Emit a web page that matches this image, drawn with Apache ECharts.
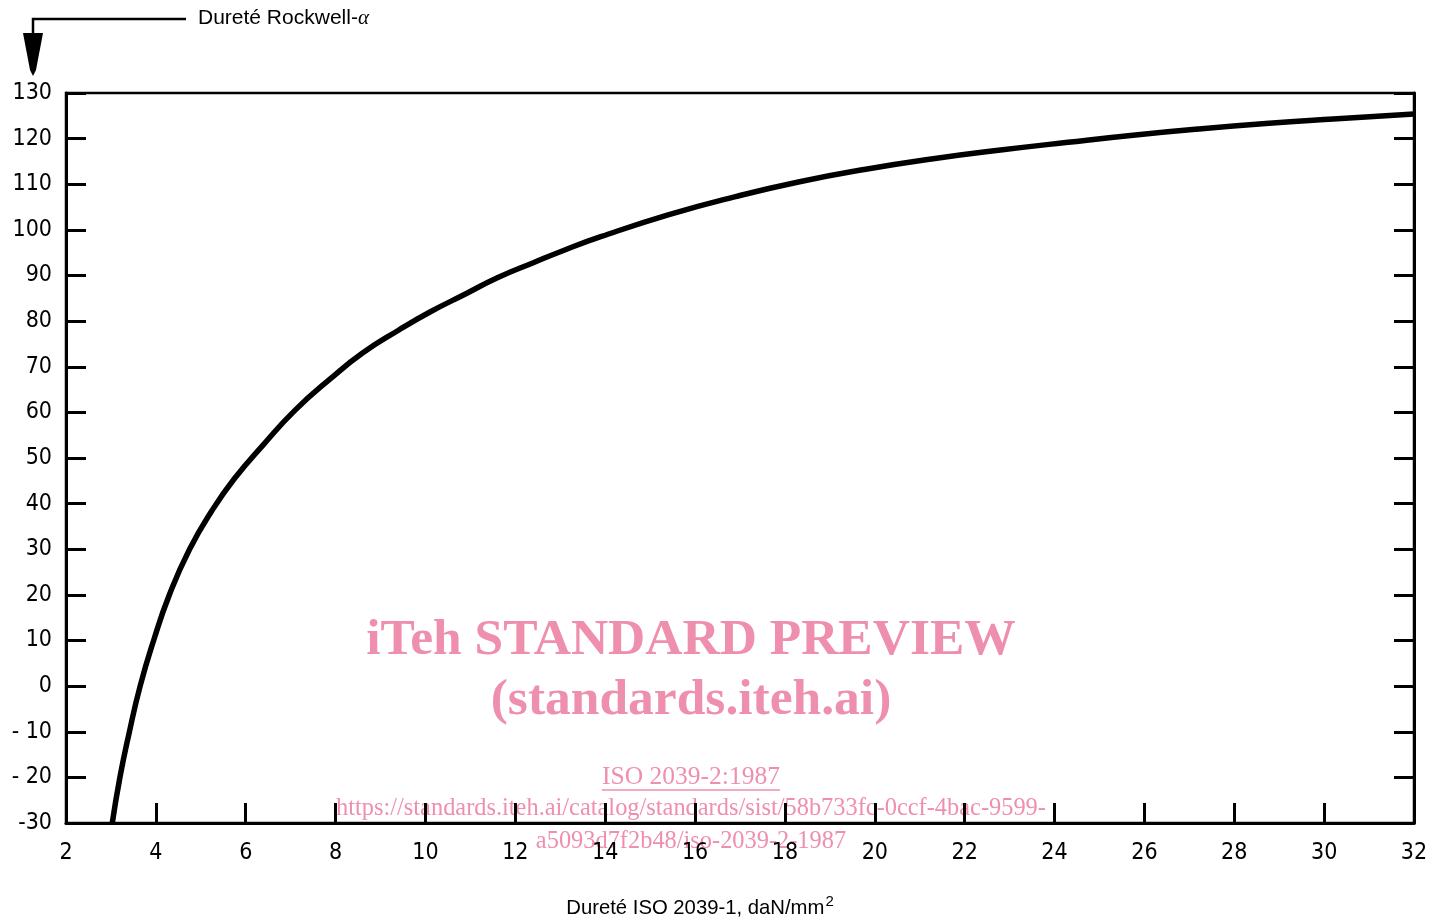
<!DOCTYPE html>
<html>
<head>
<meta charset="utf-8">
<title>Dureté Rockwell-α / Dureté ISO 2039-1</title>
<script src="https://cdn.jsdelivr.net/npm/echarts@6/dist/echarts.min.js"></script>
<style>
  html, body { margin: 0; padding: 0; background: #fff; }
  #chart { width: 1445px; height: 920px; }
</style>
</head>
<body>
<div id="chart"></div>
<script>
// valeurs
const isoHardness = [3.03, 3.2, 3.4, 3.65, 3.95, 4.3, 4.75, 5.25, 5.75, 6.4, 7.1, 7.9, 8.6, 9.4, 10.1, 10.9, 11.6, 12.4, 13.1, 13.9, 15.4, 16.9, 18.3, 19.8, 21.3, 22.8, 24.3, 25.8, 27.2, 28.7, 30.2, 32];
const rockwellAlpha = [-30, -20, -10.5, 0, 10, 20, 30, 38.5, 45.5, 53, 60.5, 67.5, 73, 78, 82, 86, 89.5, 92.8, 95.6, 98.5, 103.3, 107.3, 110.5, 113.3, 115.6, 117.5, 119.2, 120.8, 122.1, 123.3, 124.3, 125.4];

// graduations
const yTicks = [-30, -20, -10, 0, 10, 20, 30, 40, 50, 60, 70, 80, 90, 100, 110, 120, 130];
const yTickLabels = ['-30', '- 20', '- 10', '0', '10', '20', '30', '40', '50', '60', '70', '80', '90', '100', '110', '120', '130'];

const pink = '#ef8fae';
const axisFont = '"Liberation Sans Narrow", "DejaVu Sans Condensed", "Roboto", sans-serif';
const sansFont = '"Liberation Sans", Arial, sans-serif';
const serifFont = '"Liberation Serif", "Times New Roman", serif';

let myChart = echarts.init(document.getElementById('chart'));

let option = {
    backgroundColor: '#fff',
    animation: false,
    grid: {
        left: 66, right: 31, top: 93, bottom: 97,
        show: true, borderColor: '#000', borderWidth: 2.5
    },
    xAxis: {
        type: 'value', min: 2, max: 32, interval: 2,
        axisLine: { onZero: false, lineStyle: { color: '#000', width: 3 } },
        axisTick: { inside: true, length: 20, lineStyle: { color: '#000', width: 3 } },
        axisLabel: { margin: 19, color: '#000', fontSize: 23, fontFamily: axisFont },
        splitLine: { show: false }
    },
    yAxis: [{
        type: 'value', min: -30, max: 130, interval: 10, position: 'left',
        axisLine: { show: true, onZero: false, lineStyle: { color: '#000', width: 3 } },
        axisTick: { show: true, inside: true, length: 20, lineStyle: { color: '#000', width: 3 } },
        axisLabel: {
            margin: 14, color: '#000', fontSize: 23, fontFamily: axisFont,
            formatter: v => yTickLabels[yTicks.indexOf(v)]
        },
        splitLine: { show: false }
    }, {
        type: 'value', min: -30, max: 130, interval: 10, position: 'right',
        axisLine: { show: true, onZero: false, lineStyle: { color: '#000', width: 3 } },
        axisTick: { show: true, inside: true, length: 20, lineStyle: { color: '#000', width: 3 } },
        axisLabel: { show: false },
        splitLine: { show: false }
    }],
    series: [{
        type: 'line',
        data: isoHardness.map((x, i) => [x, rockwellAlpha[i]]),
        smooth: 0.5,
        showSymbol: false,
        clip: true,
        lineStyle: { color: '#000', width: 5.5 }
    }],
    graphic: [
        // titre de l'axe vertical avec sa flèche
        { type: 'polyline', shape: { points: [[186, 19], [33, 19], [33, 36]] }, style: { stroke: '#000', lineWidth: 2.5, fill: null } },
        { type: 'polygon', shape: { points: [[23, 33], [43, 33], [36, 70], [33, 76], [30, 70]] }, style: { fill: '#000' } },
        {
            type: 'text', left: 198, top: 8,
            style: {
                text: '{a|Dureté Rockwell-}{b|α}',
                rich: {
                    a: { fontSize: 21, fill: '#000', fontFamily: sansFont },
                    b: { fontSize: 21, fill: '#000', fontFamily: serifFont, fontStyle: 'italic' }
                }
            }
        },
        // titre de l'axe horizontal
        {
            type: 'text', x: 700, y: 908,
            style: {
                text: '{a|Dureté ISO 2039-1, daN/mm}{s|2}',
                align: 'center', verticalAlign: 'middle',
                rich: {
                    a: { fontSize: 20.3, fill: '#000', fontFamily: sansFont },
                    s: { fontSize: 15, fill: '#000', fontFamily: sansFont, padding: [0, 0, 12, 1] }
                }
            }
        },
        // filigrane
        { type: 'text', x: 691, y: 641, style: { text: 'iTeh STANDARD PREVIEW', align: 'center', verticalAlign: 'middle', fontSize: 51.5, fontWeight: 'bold', fill: pink, fontFamily: serifFont } },
        { type: 'text', x: 691, y: 701, style: { text: '(standards.iteh.ai)', align: 'center', verticalAlign: 'middle', fontSize: 51.5, fontWeight: 'bold', fill: pink, fontFamily: serifFont } },
        { type: 'text', x: 691, y: 777, style: { text: 'ISO 2039-2:1987', align: 'center', verticalAlign: 'middle', fontSize: 25.5, fill: pink, fontFamily: serifFont } },
        { type: 'line', shape: { x1: 602, y1: 790, x2: 780, y2: 790 }, style: { stroke: pink, lineWidth: 1.5 } },
        { type: 'text', x: 691, y: 809, style: { text: 'https://standards.iteh.ai/catalog/standards/sist/58b733fc-0ccf-4bac-9599-', align: 'center', verticalAlign: 'middle', fontSize: 24.4, fill: pink, fontFamily: serifFont } },
        { type: 'text', x: 691, y: 842, style: { text: 'a5093d7f2b48/iso-2039-2-1987', align: 'center', verticalAlign: 'middle', fontSize: 24.4, fill: pink, fontFamily: serifFont } }
    ]
};

myChart.setOption(option);
</script>
</body>
</html>
